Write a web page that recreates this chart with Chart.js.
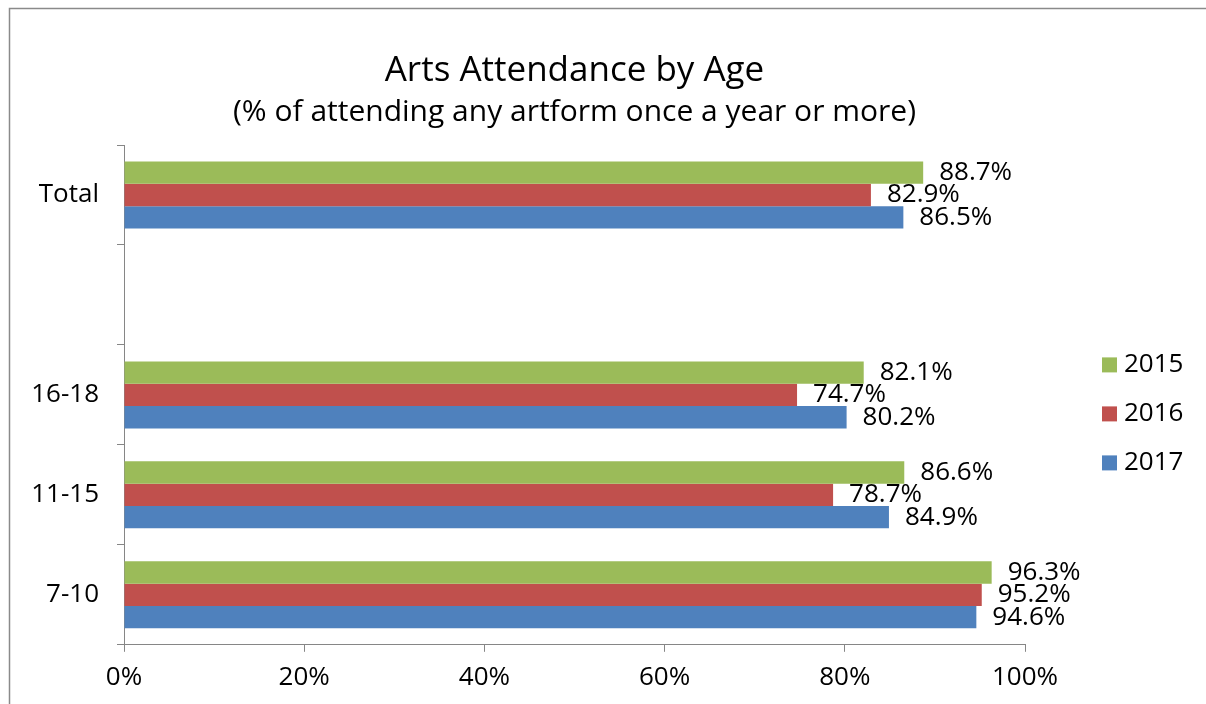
<!DOCTYPE html>
<html lang="en">
<head>
<meta charset="utf-8">
<title>Arts Attendance by Age</title>
<script src="https://cdn.jsdelivr.net/npm/chart.js@4.4.1/dist/chart.umd.min.js"></script>
<style>
    html, body { margin: 0; padding: 0; background: #fff; overflow: hidden; }
    .chart-wrap { position: relative; width: 1206px; height: 704px; }
</style>
</head>
<body>
<div class="chart-wrap">
    <canvas id="ageChart"></canvas>
</div>
<script>
        // Age groups, top to bottom (the blank row separates Total from the groups)
        const ageGroups = ['Total', '', '16-18', '11-15', '7-10'];
        const years = ['2015', '2016', '2017'];

        // Share attending any artform once a year or more (%)
        const attend2015 = [88.7, null, 82.1, 86.6, 96.3];
        const attend2016 = [82.9, null, 74.7, 78.7, 95.2];
        const attend2017 = [86.5, null, 80.2, 84.9, 94.6];

        const xTicks = [0, 20, 40, 60, 80, 100];

        const yearColors = ['#9BBB59', '#C0504D', '#4F81BD'];
        const fontFamily = '"Open Sans", "DejaVu Sans", sans-serif';
        const axisGrey = '#868686';

        // Outer chart frame (left and top edges)
        const framePlugin = {
            id: 'frame',
            beforeDraw(chart) {
                const c = chart.ctx;
                c.save();
                c.strokeStyle = '#8a8a8a';
                c.lineWidth = 1.5;
                c.beginPath();
                c.moveTo(9.5, chart.height);
                c.lineTo(9.5, 8.5);
                c.lineTo(chart.width, 8.5);
                c.stroke();
                c.restore();
            }
        };

        // Value labels just past the end of each bar
        const valueLabels = {
            id: 'valueLabels',
            afterDatasetsDraw(chart) {
                const c = chart.ctx;
                c.save();
                c.font = '26px ' + fontFamily;
                c.fillStyle = '#000';
                c.textAlign = 'left';
                c.textBaseline = 'middle';
                chart.data.datasets.forEach((ds, i) => {
                    const meta = chart.getDatasetMeta(i);
                    meta.data.forEach((bar, j) => {
                        const v = ds.data[j];
                        if (v === null) return;
                        c.fillText(v.toFixed(1) + '%', bar.x + 16, bar.y);
                    });
                });
                c.restore();
            }
        };

        // Legend to the right of the plot, square swatches
        const sideLegend = {
            id: 'sideLegend',
            afterDraw(chart) {
                const area = chart.chartArea;
                const c = chart.ctx;
                const midY = (area.top + area.bottom) / 2 + 19;
                c.save();
                c.font = '26px ' + fontFamily;
                c.textAlign = 'left';
                c.textBaseline = 'middle';
                chart.data.datasets.forEach((ds, i) => {
                    const y = midY + (i - 1) * 49;
                    const x = area.right + 77;
                    c.fillStyle = ds.backgroundColor;
                    c.fillRect(x, y - 7.5, 15, 15);
                    c.fillStyle = '#000';
                    c.fillText(ds.label, x + 22, y);
                });
                c.restore();
            }
        };

        const ctx = document.getElementById('ageChart').getContext('2d');
        const ageChart = new Chart(ctx, {
            type: 'bar',
            data: {
                labels: ageGroups,
                datasets: [
                    { label: years[0], data: attend2015, backgroundColor: yearColors[0] },
                    { label: years[1], data: attend2016, backgroundColor: yearColors[1] },
                    { label: years[2], data: attend2017, backgroundColor: yearColors[2] }
                ]
            },
            options: {
                indexAxis: 'y',
                responsive: true,
                maintainAspectRatio: false,
                animation: false,
                categoryPercentage: 0.67,
                barPercentage: 1,
                layout: {
                    padding: { left: 0, right: 181, top: 0, bottom: 1 }
                },
                scales: {
                    x: {
                        min: xTicks[0],
                        max: xTicks[xTicks.length - 1],
                        afterBuildTicks(scale) {
                            scale.ticks = xTicks.map(v => ({ value: v }));
                        },
                        grid: {
                            drawOnChartArea: false,
                            tickLength: 7,
                            color: axisGrey
                        },
                        border: { color: axisGrey },
                        ticks: {
                            padding: 10,
                            color: '#000',
                            font: { family: fontFamily, size: 26 },
                            callback: v => v + '%'
                        }
                    },
                    y: {
                        afterFit(scale) {
                            scale.width = 124;
                        },
                        grid: {
                            drawOnChartArea: false,
                            tickLength: 7,
                            color: axisGrey
                        },
                        border: { color: axisGrey },
                        ticks: {
                            padding: 18,
                            color: '#000',
                            font: { family: fontFamily, size: 26 }
                        }
                    }
                },
                plugins: {
                    legend: { display: false },
                    tooltip: { enabled: false },
                    title: {
                        display: true,
                        text: 'Arts Attendance by Age',
                        fullSize: false,
                        color: '#000',
                        font: { family: fontFamily, size: 35, weight: 'normal' },
                        padding: { top: 50, bottom: 0 }
                    },
                    subtitle: {
                        display: true,
                        text: '(% of attending any artform once a year or more)',
                        fullSize: false,
                        color: '#000',
                        font: { family: fontFamily, size: 30 },
                        padding: { top: 2, bottom: 15 }
                    }
                }
            },
            plugins: [framePlugin, valueLabels, sideLegend]
        });
</script>
</body>
</html>
